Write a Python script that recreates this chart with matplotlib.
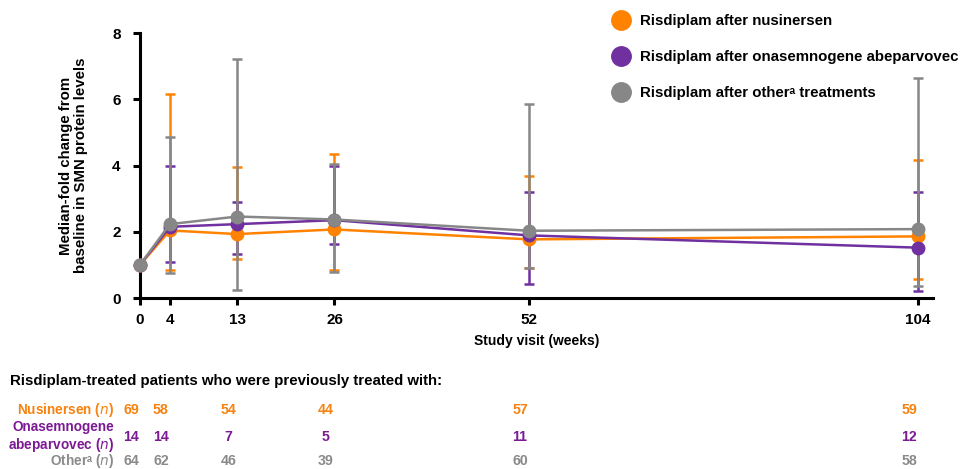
import numpy as np
import matplotlib
matplotlib.use("Agg")
import matplotlib.pyplot as plt
import matplotlib.transforms as mtrans
from matplotlib.lines import Line2D

plt.rcParams['font.family'] = ['Liberation Sans', 'DejaVu Sans']

# study visits (weeks)
weeks = [0, 4, 13, 26, 52, 104]

# median-fold change, with lower / upper whiskers
nus_med = [1.0, 2.04, 1.93, 2.07, 1.77, 1.86]
nus_lo = [1.0, 0.85, 1.18, 0.84, 0.90, 0.58]
nus_hi = [1.0, 6.15, 3.94, 4.34, 3.67, 4.17]

ona_med = [1.0, 2.15, 2.23, 2.35, 1.89, 1.52]
ona_lo = [1.0, 1.10, 1.33, 1.63, 0.43, 0.22]
ona_hi = [1.0, 4.00, 2.90, 4.00, 3.20, 3.19]

oth_med = [1.0, 2.23, 2.46, 2.37, 2.03, 2.08]
oth_lo = [1.0, 0.74, 0.25, 0.80, 0.90, 0.37]
oth_hi = [1.0, 4.87, 7.21, 4.06, 5.86, 6.64]

# patient numbers at each visit
nus_n = [69, 58, 54, 44, 57, 59]
ona_n = [14, 14, 7, 5, 11, 12]
oth_n = [64, 62, 46, 39, 60, 58]

legend_labels = ["Risdiplam after nusinersen",
                 "Risdiplam after onasemnogene abeparvovec",
                 "Risdiplam after other\u1d43 treatments"]
row_labels = ["Nusinersen ($\\mathit{n}$)",
              "Onasemnogene\nabeparvovec ($\\mathit{n}$)",
              "Other\u1d43 ($\\mathit{n}$)"]

ORANGE = "#FF8200"
PURPLE = "#7030A0"
GRAY = "#878787"
TXT_ORANGE = "#F7820F"
TXT_PURPLE = "#7B1A94"
TXT_GRAY = "#8A8A8A"

fig = plt.figure(figsize=(9.6, 4.69), dpi=100)
ax = fig.add_axes([0.1458, 0.3646, 0.826, 0.565])

series = [(nus_med, nus_lo, nus_hi, ORANGE),
          (ona_med, ona_lo, ona_hi, PURPLE),
          (oth_med, oth_lo, oth_hi, GRAY)]
for med, lo, hi, col in series:
    med = np.array(med)
    yerr = [med - np.array(lo), np.array(hi) - med]
    ax.errorbar(weeks, med, yerr=yerr, fmt='none', ecolor=col,
                elinewidth=1.8, capsize=3.5, capthick=1.8, zorder=2)
for med, lo, hi, col in series:
    ax.plot(weeks, med, '-', color=col, lw=1.8, marker='o', ms=9,
            zorder=3, clip_on=False)

ax.set_xlim(0, 106)
ax.set_ylim(0, 8)
ax.set_xticks(weeks)
ax.set_yticks([0, 2, 4, 6, 8])
for s in ['top', 'right']:
    ax.spines[s].set_visible(False)
for s in ['left', 'bottom']:
    ax.spines[s].set_linewidth(2.2)
ax.tick_params(width=2.2, length=5, labelsize=11)
ax.tick_params(axis='y', pad=9)
ax.tick_params(axis='x', pad=5.5)
for lab in ax.get_xticklabels() + ax.get_yticklabels():
    lab.set_fontweight('bold')
ax.set_xlabel("Study visit (weeks)", fontsize=10, fontweight='bold', labelpad=5)
ax.set_ylabel("Median-fold change from\nbaseline in SMN protein levels",
              fontsize=10.8, fontweight='bold', labelpad=17, linespacing=1.15)

handles = [Line2D([], [], ls='none', marker='o', ms=14, color=c)
           for c in (ORANGE, PURPLE, GRAY)]
fig.legend(handles, legend_labels, loc='upper left',
           bbox_to_anchor=(0.625, 0.998), frameon=False,
           prop={'size': 10.8, 'weight': 'bold'}, handlelength=1.0,
           handletextpad=0.8, labelspacing=1.45)

# patient-number table under the chart
fig.text(0.0105, 1 - 381 / 469, "Risdiplam-treated patients who were previously treated with:",
         fontsize=10.8, fontweight='bold', va='center', ha='left')
trans = mtrans.blended_transform_factory(ax.transData, fig.transFigure)
offs = mtrans.offset_copy(trans, fig=fig, x=-9, y=0, units='dots')
rows = [(nus_n, TXT_ORANGE, 410), (ona_n, TXT_PURPLE, 437), (oth_n, TXT_GRAY, 461)]
for (vals, col, ypx), lab in zip(rows, row_labels):
    fig.text(114 / 960, 1 - ypx / 469, lab, color=col, fontsize=9.8,
             fontweight='bold', ha='right', va='center', multialignment='right',
             linespacing=1.1)
    for w, v in zip(weeks, vals):
        fig.text(w, 1 - ypx / 469, str(v), color=col, fontsize=10.2,
                 fontweight='bold', ha='center', va='center', transform=offs)

fig.savefig("out.png", dpi=100)
